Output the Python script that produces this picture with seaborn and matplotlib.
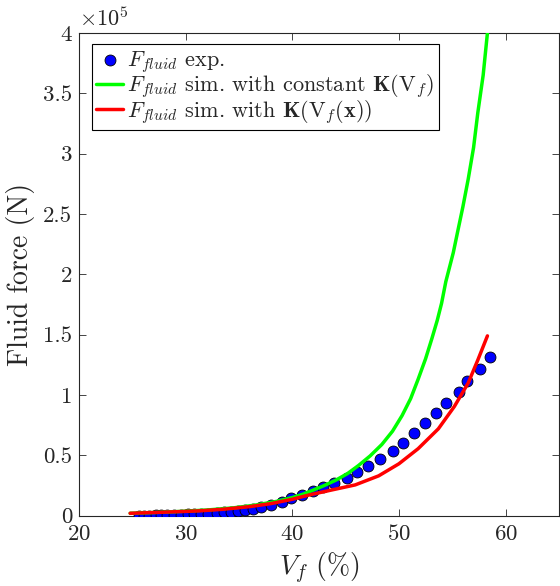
import numpy as np
import pandas as pd
import matplotlib
matplotlib.use("Agg")
import matplotlib.pyplot as plt
import matplotlib.ticker as ticker
import seaborn as sns

# experimental fluid force (x1e5 N) vs fibre volume fraction (%)
vf_exp = [25.6, 26.1, 26.6, 27.2, 27.7, 28.3, 28.9, 29.6, 30.2, 30.8, 31.4,
          32.1, 32.9, 33.6, 34.3, 34.9, 35.6, 36.3, 37.1, 38.0, 39.0, 39.9,
          40.9, 41.9, 42.9, 43.9, 45.1, 46.1, 47.1, 48.2, 49.4, 50.4, 51.4,
          52.4, 53.5, 54.4, 55.6, 56.4, 57.6, 58.5]
f_exp = [0.0, 0.0, 0.001, 0.002, 0.003, 0.004, 0.006, 0.008, 0.010, 0.012,
         0.015, 0.018, 0.022, 0.027, 0.033, 0.040, 0.048, 0.057, 0.068, 0.085,
         0.115, 0.144, 0.175, 0.207, 0.236, 0.274, 0.315, 0.365, 0.412, 0.473,
         0.537, 0.606, 0.684, 0.764, 0.85, 0.933, 1.024, 1.118, 1.218, 1.311]

# simulation, constant K(Vf)
vf_const = [24.8, 27.0, 29.5, 32.0, 34.5, 36.5, 38.5, 40.0, 41.0, 41.9, 43.0,
            44.1, 45.2, 46.2, 47.3, 48.4, 49.4, 50.3, 51.1, 51.8, 52.5, 53.1,
            53.6, 54.0, 54.4, 55.1, 55.5, 56.0, 56.5, 57.0, 57.4, 57.9, 58.3]
f_const = [0.02, 0.026, 0.035, 0.047, 0.065, 0.087, 0.118, 0.15, 0.178, 0.21,
           0.25, 0.295, 0.35, 0.415, 0.495, 0.59, 0.70, 0.83, 0.97, 1.13,
           1.30, 1.47, 1.62, 1.76, 1.94, 2.18, 2.35, 2.56, 2.79, 3.05, 3.34,
           3.65, 4.0]

# simulation, K(Vf(x))
vf_var = [24.8, 27.0, 29.5, 31.3, 33.5, 36.0, 38.0, 40.0, 41.6, 43.7, 45.9,
          48.1, 50.0, 51.8, 53.7, 55.2, 56.5, 57.4, 58.3]
f_var = [0.02, 0.026, 0.034, 0.04, 0.053, 0.075, 0.10, 0.136, 0.172, 0.213,
         0.255, 0.33, 0.43, 0.555, 0.72, 0.905, 1.10, 1.29, 1.49]


class GFormatter(ticker.ScalarFormatter):
    # matlab-like tick labels: 0, 0.5, 1, ...
    def _set_format(self):
        self.format = "%g"


sns.set_style("ticks")
plt.rcParams["font.family"] = "serif"
plt.rcParams["font.serif"] = ["cmr10"]
plt.rcParams["mathtext.fontset"] = "cm"
plt.rcParams["axes.formatter.use_mathtext"] = True

fig = plt.figure(figsize=(5.6, 5.86), dpi=100)
ax = fig.add_axes([0.141, 0.12, 0.857, 0.8237])

exp_df = pd.DataFrame({"vf": vf_exp, "F": np.array(f_exp) * 1e5})
const_df = pd.DataFrame({"vf": vf_const, "F": np.array(f_const) * 1e5})
var_df = pd.DataFrame({"vf": vf_var, "F": np.array(f_var) * 1e5})

sns.scatterplot(data=exp_df, x="vf", y="F", ax=ax, color="#0000ff", s=62,
                edgecolor="black", linewidth=0.6,
                label=r"$F_{fluid}$ exp.", zorder=3)
sns.lineplot(data=const_df, x="vf", y="F", ax=ax, color="#00ff00", lw=2.5,
             label=r"$F_{fluid}$ sim. with constant $\mathbf{K}(\mathrm{V}_f)$",
             zorder=4)
sns.lineplot(data=var_df, x="vf", y="F", ax=ax, color="#ff0000", lw=2.5,
             label=r"$F_{fluid}$ sim. with $\mathbf{K}(\mathrm{V}_f(\mathbf{x}))$",
             zorder=5)

ax.set_xlim(20, 65)
ax.set_ylim(0, 4e5)
ax.set_xticks([20, 30, 40, 50, 60])
ax.set_yticks(np.arange(0, 4.01e5, 0.5e5))
fmt = GFormatter(useMathText=True)
fmt.set_powerlimits((5, 5))
ax.yaxis.set_major_formatter(fmt)
ax.yaxis.OFFSETTEXTPAD = 5
ax.yaxis.get_offset_text().set_fontsize(16)
ax.yaxis.get_offset_text().set_color("0.15")

ax.tick_params(direction="in", length=5, width=0.6, top=True, right=True,
               labelsize=16.5, colors="0.15", labelcolor="0.15")
ax.tick_params(axis="x", pad=6)
ax.tick_params(axis="y", pad=5)
for sp in ax.spines.values():
    sp.set_color("0.15")
    sp.set_linewidth(0.8)

ax.set_xlabel(r"$V_f$ (%)", fontsize=20, labelpad=5)
ax.set_ylabel("Fluid force (N)", fontsize=20, labelpad=6)

leg = ax.legend(loc="upper left", bbox_to_anchor=(0.027, 0.977), fontsize=16,
                frameon=True, fancybox=False, framealpha=1, edgecolor="black",
                handlelength=1.2, handletextpad=0.2, borderpad=0.2,
                labelspacing=-0.1, borderaxespad=0)
leg.get_frame().set_linewidth(0.8)

fig.savefig("out.png", dpi=100)
